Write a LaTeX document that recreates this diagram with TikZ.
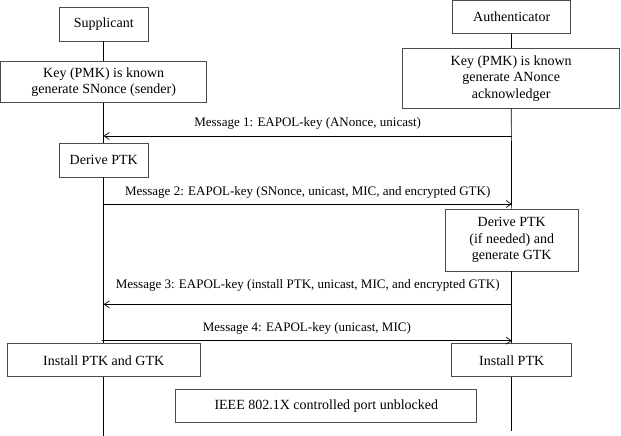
\documentclass[tikz,border=0pt]{standalone}
\usepackage{fontspec}
\setmainfont{Liberation Serif}
\usetikzlibrary{arrows.meta,positioning}

\begin{document}
\begin{tikzpicture}[x=1pt, y=-1pt,
    box/.style={draw=black!70, fill=white, line width=0.7pt, font=\fontsize{14}{16.5}\selectfont, align=center, inner sep=0pt},
    lifeline/.style={draw=black, line width=0.7pt},
    msg/.style={-{Straight Barb[length=5pt,width=7pt]}, line width=0.7pt, draw=black, font=\fontsize{13}{15}\selectfont, inner sep=0pt}
]
    \useasboundingbox (0,0) rectangle (621,436);

    % Supplicant side
    \node[box, minimum width=89, minimum height=34] (sup) at (103.7, 24) {Supplicant};
    \node[box, minimum width=206, minimum height=41] (skey) at (103.7, 82) {Key (PMK) is known\\generate SNonce (sender)};
    \node[box, minimum width=89, minimum height=34] (sderive) at (103.7, 160) {Derive PTK};
    \node[box, minimum width=193, minimum height=33] (sinstall) at (103.7, 360.3) {Install PTK and GTK};

    % Authenticator side
    \node[box, minimum width=118, minimum height=33] (auth) at (511.7, 17) {Authenticator};
    \node[box, minimum width=217, minimum height=60] (akey) at (511.2, 78.3) {Key (PMK) is known\\generate ANonce\\acknowledger};
    \node[box, minimum width=133, minimum height=62] (aderive) at (511.7, 240) {Derive PTK\\(if needed) and\\generate GTK};
    \node[box, minimum width=120, minimum height=33] (ainstall) at (511.7, 360.3) {Install PTK};

    \node[box, minimum width=301, minimum height=33] (port) at (326.3, 406) {IEEE 802.1X controlled port unblocked};

    % Lifelines
    \coordinate (sEnd) at (103.7, 436);
    \coordinate (aEnd) at (511.7, 431);
    \draw[lifeline] (sup) -- (skey);
    \draw[lifeline] (skey) -- (sderive);
    \draw[lifeline] (sderive) -- (sinstall);
    \draw[lifeline] (sinstall) -- (sEnd);
    \draw[lifeline] (auth) -- (akey);
    \draw[lifeline] (akey) -- (aderive);
    \draw[lifeline] (aderive) -- (ainstall);
    \draw[lifeline] (ainstall) -- (aEnd);

    % Messages
    \coordinate (m1s) at (103.7, 136);   \coordinate (m1a) at (511.7, 136);
    \coordinate (m2s) at (103.7, 204);   \coordinate (m2a) at (511.7, 204);
    \coordinate (m3s) at (103.7, 304.3); \coordinate (m3a) at (511.7, 304.3);
    \coordinate (m4s) at (102, 340.7);   \coordinate (m4a) at (511.7, 340.7);

    \draw[msg] (m1a) -- node[above=6pt]{Message 1: EAPOL-key (ANonce, unicast)} (m1s);
    \draw[msg] (m2s) -- node[above=5.5pt]{Message 2: EAPOL-key (SNonce, unicast, MIC, and encrypted GTK)} (m2a);
    \draw[msg] (m3a) -- node[above=13pt]{Message 3: EAPOL-key (install PTK, unicast, MIC, and encrypted GTK)} (m3s);
    \draw[msg] (m4s) -- node[above=6.5pt]{Message 4: EAPOL-key (unicast, MIC)} (m4a);
\end{tikzpicture}
\end{document}
